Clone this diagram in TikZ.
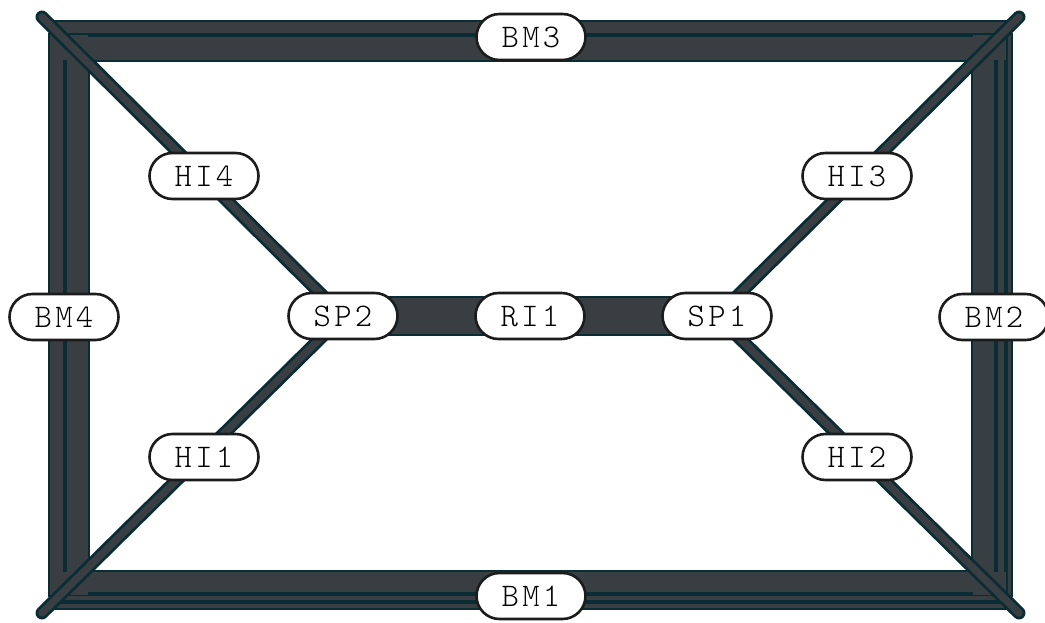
\documentclass[tikz,border=0pt]{standalone}
\usepackage{fontspec}
\usetikzlibrary{backgrounds}
\newfontfamily\lbl[LetterSpace=10]{lmmonolt10-regular.otf}
\definecolor{bandfill}{RGB}{56,62,65}
\definecolor{bandline}{RGB}{10,44,52}
\definecolor{nodeline}{RGB}{28,28,28}
\begin{document}
\begin{tikzpicture}[x=1pt,y=-1pt,
  lab/.style={draw=nodeline, line width=2.6pt, fill=white, rounded corners=23pt,
    minimum width=109pt, minimum height=46pt, inner sep=0pt,
    font=\lbl\fontsize{33}{33}\selectfont},
  diagout/.style={draw=bandline, line width=13pt, line cap=round},
  diagin/.style={draw=bandfill, line width=7.5pt, line cap=round},
  ribout/.style={draw=bandline, line width=40pt},
  ribin/.style={draw=bandfill, line width=36pt}]
\useasboundingbox (0,0) rectangle (1045,623);
% corners
\coordinate (tl) at (42,17);
\coordinate (tr) at (1019,17);
\coordinate (bl) at (42,613);
\coordinate (br) at (1019,613);
% labels
\node[lab] (BM3) at (531,37) {BM3};
\node[lab] (BM1) at (531,596) {BM1};
\node[lab] (BM4) at (64,317) {BM4};
\node[lab] (BM2) at (994,317) {BM2};
\node[lab] (HI4) at (204,176) {HI4};
\node[lab] (HI3) at (857,176) {HI3};
\node[lab] (HI1) at (204,457) {HI1};
\node[lab] (HI2) at (857,457) {HI2};
\node[lab] (SP2) at (343,316) {SP2};
\node[lab] (RI1) at (530,316) {RI1};
\node[lab] (SP1) at (717,316) {SP1};
\begin{scope}[on background layer]
% frame strips: outlines
\fill[bandline] (52,20) rectangle (1008,35);
\fill[bandline] (52,35) rectangle (1008,62);
\fill[bandline] (48,33) rectangle (65,597);
\fill[bandline] (65,33) rectangle (90,597);
\fill[bandline] (52,570) rectangle (1008,594);
\fill[bandline] (52,594) rectangle (1008,602);
\fill[bandline] (52,602) rectangle (1008,610);
\fill[bandline] (971,33) rectangle (996,597);
\fill[bandline] (996,33) rectangle (1006,597);
\fill[bandline] (1006,33) rectangle (1013,597);
% frame strips: fills
\fill[bandfill] (54,22) rectangle (1006,33);
\fill[bandfill] (54,37) rectangle (1006,60);
\fill[bandfill] (50,35) rectangle (63,595);
\fill[bandfill] (67,35) rectangle (88,595);
\fill[bandfill] (54,572) rectangle (1006,592);
\fill[bandfill] (54,596) rectangle (1006,600);
\fill[bandfill] (54,604) rectangle (1006,608);
\fill[bandfill] (973,35) rectangle (994,595);
\fill[bandfill] (998,35) rectangle (1004,595);
\fill[bandfill] (1008,35) rectangle (1011,595);
% ribbon SP2 -- SP1
\draw[ribout] (SP2.center) -- (SP1.center);
\draw[ribin] (SP2.center) -- (SP1.center);
% diagonals
\foreach \a/\b in {tl/SP2, bl/SP2, tr/SP1, br/SP1}{
  \draw[diagout] (\a) -- (\b.center);
  \draw[diagin] (\a) -- (\b.center);
}
\end{scope}
\end{tikzpicture}
\end{document}
